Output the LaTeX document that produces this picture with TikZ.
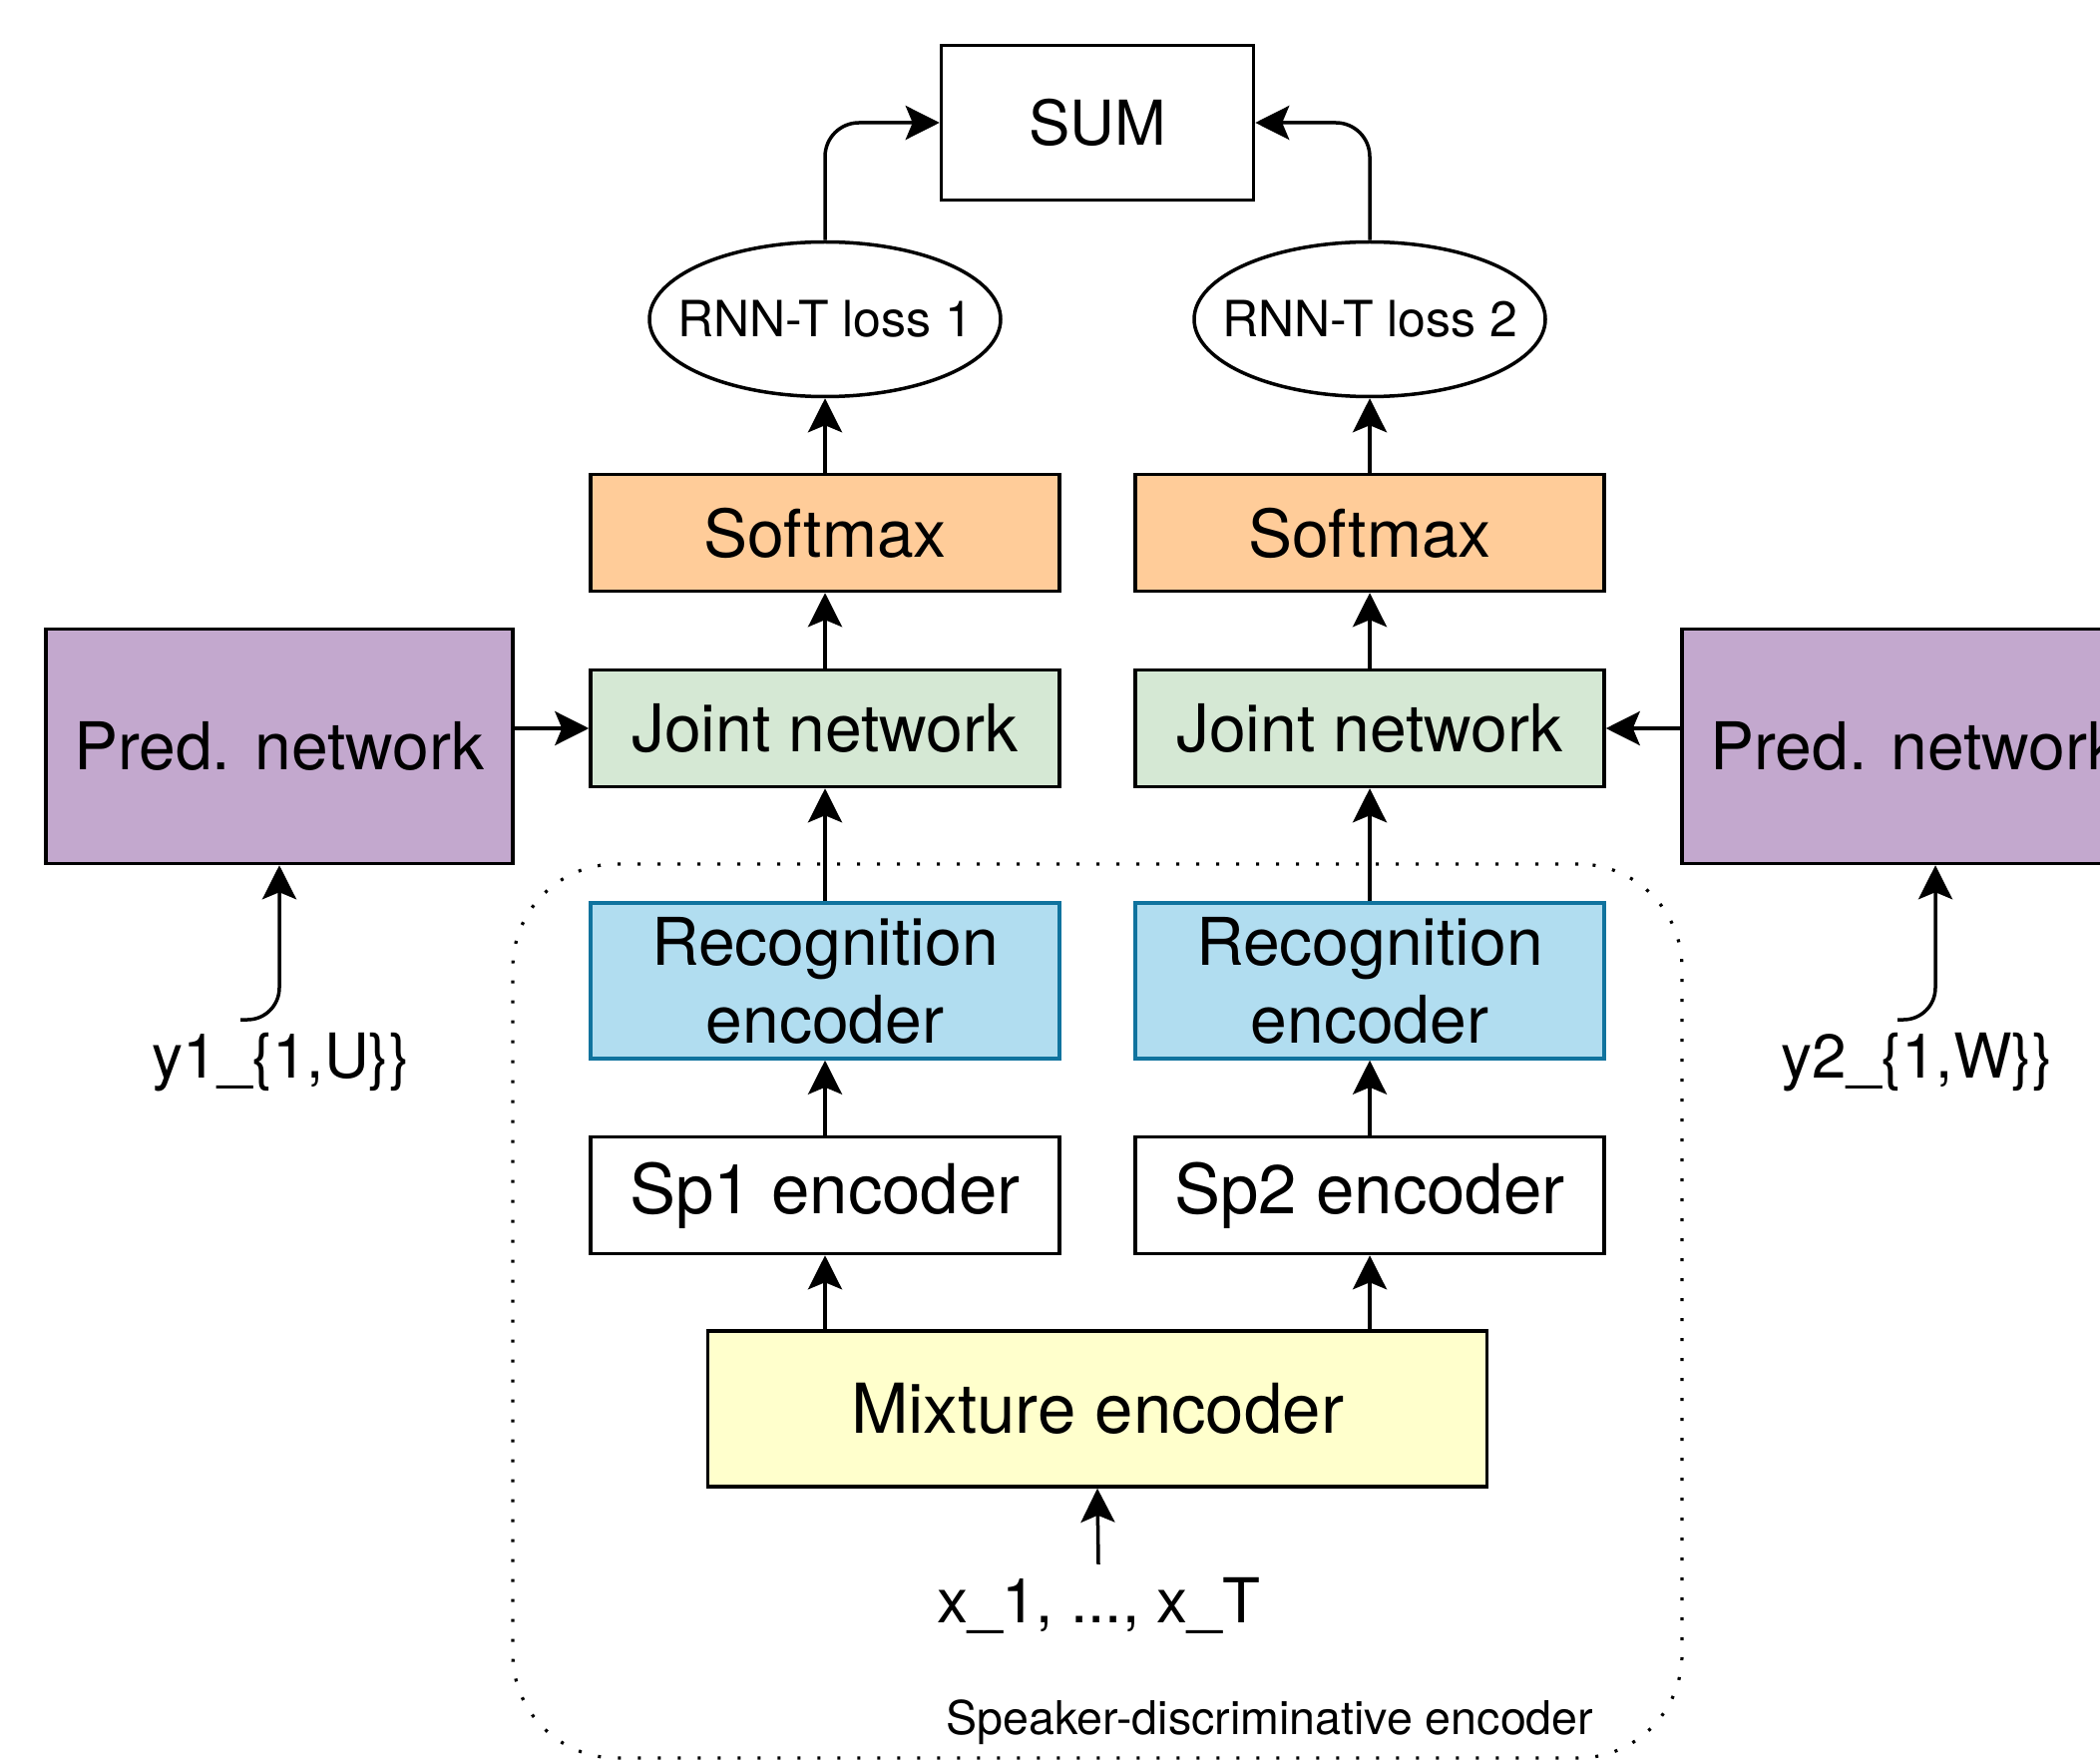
\documentclass[tikz,border=0pt]{standalone}
\usepackage{fontspec}
\setmainfont{TeX Gyre Heros}
\usetikzlibrary{arrows.meta,shapes.geometric,calc}
\definecolor{predc}{HTML}{C3A8CE}
\definecolor{smc}{HTML}{FFCC99}
\definecolor{jc}{HTML}{D5E8D4}
\definecolor{recc}{HTML}{B1DDF0}
\definecolor{recd}{HTML}{10739E}
\definecolor{mixc}{HTML}{FFFFCC}
\begin{document}
\begin{tikzpicture}[x=0.5pt,y=-0.5pt,
  box/.style={draw=black,line width=1.75pt,minimum width=235pt,minimum height=58.5pt,inner sep=0pt,align=center,font=\fontsize{33}{39}\selectfont},
  arr/.style={line width=1.75pt,-{Stealth[length=17pt,width=17pt,inset=3.5pt]}},
  lbl/.style={inner sep=0pt,font=\fontsize{31}{37}\selectfont},
  ell/.style={draw=black,line width=1.75pt,ellipse,minimum width=176pt,minimum height=77.5pt,inner ysep=0pt,inner xsep=-13pt,font=\fontsize{25}{30}\selectfont},
  grpbox/.style={draw=black,line width=1.6pt,dash pattern=on 1.5pt off 8.5pt,rounded corners=52pt,minimum width=586pt,minimum height=448pt,inner sep=0pt}
]
\useasboundingbox (0,0) rectangle (2105,1765);
\clip (0,0) rectangle (2105,1765);
\fill[white] (0,0) rectangle (2105,1765);

% group
\node[grpbox] (grp) at (1100,1314) {};
\node[inner sep=0pt,font=\fontsize{23.3}{28}\selectfont] (grplbl) at (1273,1726) {Speaker-discriminative encoder};

% top
\node[box,minimum width=156.5pt,minimum height=77.5pt,font=\fontsize{31}{37}\selectfont] (sum) at (1100,123) {SUM};
\node[ell] (rnn1) at (827,320) {RNN-T loss 1};
\node[ell] (rnn2) at (1373,320) {RNN-T loss 2};

\node[box,fill=smc] (sm1) at (827,534) {Softmax};
\node[box,fill=smc] (sm2) at (1373,534) {Softmax};
\node[box,fill=jc] (j1) at (827,730) {Joint network};
\node[box,fill=jc] (j2) at (1373,730) {Joint network};
\node[box,fill=recc,draw=recd,minimum height=78pt] (rec1) at (827,983) {Recognition\\encoder};
\node[box,fill=recc,draw=recd,minimum height=78pt] (rec2) at (1373,983) {Recognition\\encoder};
\node[box,fill=white,font=\fontsize{34.5}{40}\selectfont] (sp1) at (827,1198) {Sp1 encoder};
\node[box,fill=white,font=\fontsize{34.5}{40}\selectfont] (sp2) at (1373,1198) {Sp2 encoder};
\node[box,fill=mixc,minimum width=390.5pt,minimum height=78pt,font=\fontsize{34.5}{40}\selectfont] (mix) at (1100,1412) {Mixture encoder};

\node[box,fill=predc,minimum width=234pt,minimum height=117.5pt] (pred1) at (280,748) {Pred. network};
\node[box,fill=predc,minimum width=234pt,minimum height=117.5pt] (pred2) at (1920,748) {Pred. network};

% labels
\node[lbl,anchor=base,outer ysep=6.5pt] (xin) at (1101,1626) {x\_1, ..., x\_T};
\node[lbl,anchor=base] (y1) at (282,1080) {y1\_\{1,U\}\}};
\node[lbl,anchor=base] (y2) at (1922,1080) {y2\_\{1,W\}\}};
\coordinate (y1s) at (241,1022);
\coordinate (y2s) at (1902,1022);

% connectors
\draw[arr,rounded corners=17pt] (rnn1.north) |- (sum.west);
\draw[arr,rounded corners=17pt] (rnn2.north) |- (sum.east);
\draw[arr] (sm1.north) -- (rnn1.south);
\draw[arr] (sm2.north) -- (rnn2.south);
\draw[arr] (j1.north) -- (sm1.south);
\draw[arr] (j2.north) -- (sm2.south);
\draw[arr] (rec1.north) -- (j1.south);
\draw[arr] (rec2.north) -- (j2.south);
\draw[arr] (sp1.north) -- (rec1.south);
\draw[arr] (sp2.north) -- (rec2.south);
\draw[arr] (sp1.south |- mix.north) -- (sp1.south);
\draw[arr] (sp2.south |- mix.north) -- (sp2.south);
\draw[arr] (xin.north) -- (mix.south);
\draw[arr] (pred1.east |- j1) -- (j1.west);
\draw[arr] (pred2.west |- j2) -- (j2.east);
\draw[arr,rounded corners=16pt] (y1s) -| (pred1.south);
\draw[arr,rounded corners=16pt] (y2s) -| ([xshift=10pt]pred2.south);
\end{tikzpicture}
\end{document}
